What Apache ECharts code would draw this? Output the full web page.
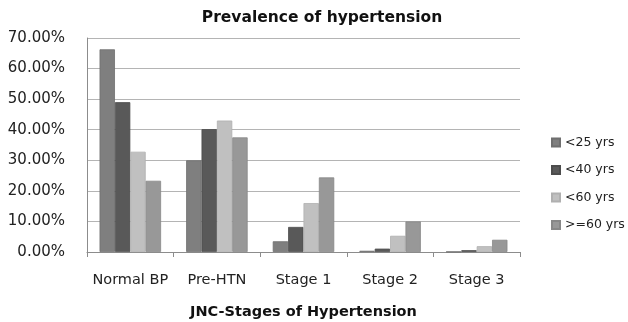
<!DOCTYPE html>
<html><head><meta charset="utf-8">
<script src="https://cdn.jsdelivr.net/npm/echarts@6/dist/echarts.min.js"></script>
<style>html,body{margin:0;padding:0;background:#fff}#c{width:628px;height:322px}</style>
</head><body><div id="c"></div>
<script>
const categories = ['Normal BP', 'Pre-HTN', 'Stage 1', 'Stage 2', 'Stage 3'];
const seriesNames = ['<25 yrs', '<40 yrs', '<60 yrs', '>=60 yrs'];
const under25 = [66.3, 30.0, 3.5, 0.4, 0.1];
const under40 = [49.0, 40.2, 8.2, 1.1, 0.6];
const under60 = [32.8, 43.0, 16.0, 5.3, 1.9];
const over60 = [23.3, 37.5, 24.4, 10.0, 4.0];
const yTicks = [0, 10, 20, 30, 40, 50, 60, 70];
const colors = ['#7f7f7f', '#595959', '#c0c0c0', '#989898'];
const borders = ['#6f6f6f', '#4c4c4c', '#b0b0b0', '#888888'];
const values = [under25, under40, under60, over60];
const font = '"DejaVu Sans", sans-serif';

const chart = echarts.init(document.getElementById('c'), null, {renderer: 'canvas'});
chart.setOption({
  animation: false,
  backgroundColor: '#fff',
  title: {
    text: 'Prevalence of hypertension',
    left: 317, top: 5, textAlign: 'center',
    textStyle: {fontFamily: font, fontSize: 15.5, fontWeight: 'bold', color: '#111'}
  },
  legend: {
    orient: 'vertical', left: 546, top: 131,
    itemWidth: 8, itemHeight: 8, itemGap: 14.5,
    icon: 'rect',
    textStyle: {fontFamily: font, fontSize: 12.5, color: '#222'},
    data: seriesNames
  },
  grid: {left: 87, right: 108, top: 38, bottom: 70, containLabel: false, outerBoundsMode: 'none'},
  xAxis: {
    type: 'category', data: categories,
    name: 'JNC-Stages of Hypertension', nameLocation: 'middle', nameGap: 53,
    nameTextStyle: {fontFamily: font, fontSize: 14.5, fontWeight: 'bold', color: '#111'},
    axisLine: {lineStyle: {color: '#8c8c8c', width: 1}},
    axisTick: {show: true, length: 5, alignWithLabel: false, lineStyle: {color: '#8c8c8c'}},
    axisLabel: {fontFamily: font, fontSize: 14.5, color: '#222', margin: 21, interval: 0, hideOverlap: false}
  },
  yAxis: {
    type: 'value', min: yTicks[0], max: yTicks[yTicks.length - 1], interval: 10,
    axisLine: {show: true, lineStyle: {color: '#8c8c8c'}},
    axisTick: {show: false},
    splitLine: {lineStyle: {color: '#b4b4b4', width: 1}},
    axisLabel: {fontFamily: font, fontSize: 15, color: '#222', margin: 22,
      formatter: v => v.toFixed(2) + '%'}
  },
  series: seriesNames.map((n, i) => ({
    name: n, type: 'bar', data: values[i],
    barGap: '0%', barCategoryGap: '29%',
    itemStyle: {color: colors[i], borderColor: borders[i], borderWidth: 0.8}
  }))
});
</script></body></html>
